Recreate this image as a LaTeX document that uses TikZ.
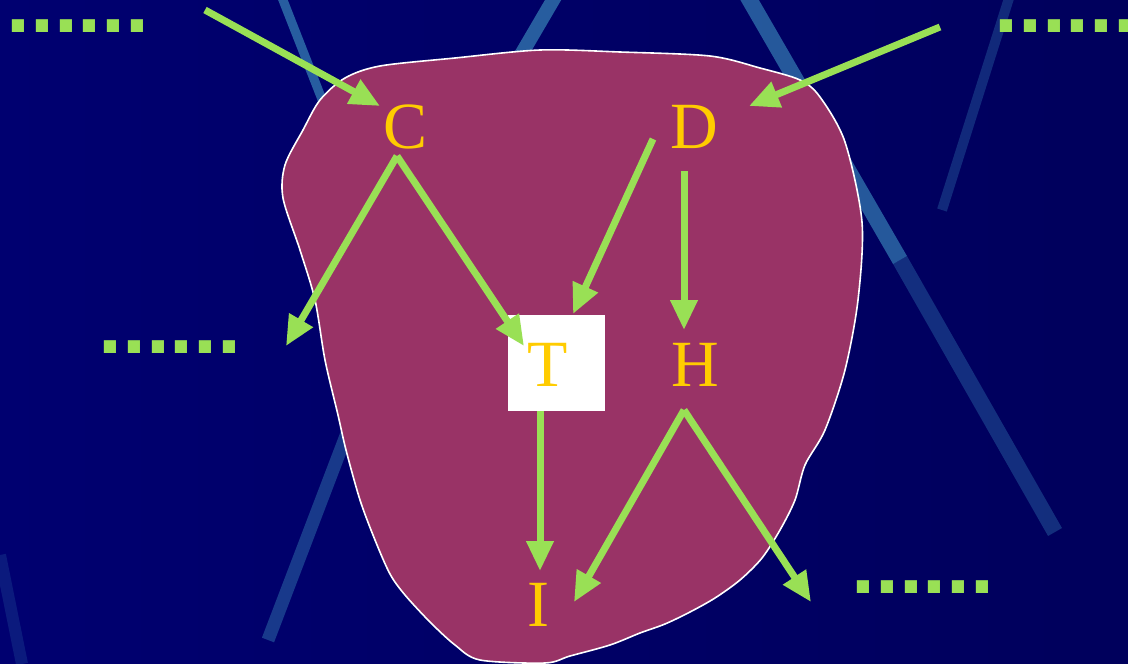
\documentclass[tikz,border=0pt]{standalone}
\usepackage{fontspec}
\setmainfont{Liberation Serif}
\newfontfamily\dotfont{Liberation Sans}
\usetikzlibrary{arrows.meta}
\definecolor{bgl}{HTML}{000070}
\definecolor{bgr}{HTML}{00005C}
\definecolor{blobc}{HTML}{993366}
\definecolor{gold}{HTML}{FFCC00}
\definecolor{lime}{HTML}{99E055}
\definecolor{streak}{HTML}{2C68A6}
\tikzset{
  arr/.style={draw=lime, line width=7pt, -{Triangle[length=30pt,width=26pt]}},
  letter/.style={text=gold, inner sep=0pt, font=\fontsize{66}{66}\selectfont},
  dots/.style={text=lime, inner sep=0pt, anchor=base west, font=\dotfont\bfseries\fontsize{86}{86}\selectfont},
  streakline/.style={draw=streak, line cap=butt},
}
\begin{document}
\begin{tikzpicture}[x=1pt,y=-1pt]
\shade[left color=bgl, right color=bgr] (0,0) rectangle (1128,664);
\useasboundingbox (0,0) rectangle (1128,664);
% streaks
\begin{scope}
\clip (0,0) rectangle (1128,664);
\draw[streakline, line width=9pt, opacity=0.9] (281,-5) -- (440,400);
\draw[streakline, line width=13pt, opacity=0.55] (352,420) -- (268,640);
\draw[streakline, line width=14pt, opacity=0.9] (556,-5) -- (515,65);
\draw[streakline, line width=16pt, opacity=0.85] (745,-8) -- (900,260);
\draw[streakline, line width=16pt, opacity=0.45] (900,260) -- (1055,532);
\draw[streakline, line width=10pt, opacity=0.4] (1010,-5) -- (942,210);
\draw[streakline, line width=12pt, opacity=0.25] (0,555) -- (22,664);
\end{scope}
% blob
\filldraw[fill=blobc, draw=white, line width=1.6pt] plot[smooth cycle, tension=0.5] coordinates {
(455,58) (540,50) (620,52) (710,56) (760,68) (800,80) (820,97) (845,142) (862,222)
(858,300) (845,370) (825,430) (805,465) (795,500) (780,530) (762,558) (740,580)
(715,598) (690,612) (665,624) (640,633) (610,645) (570,656) (545,663) (480,660)
(455,645) (430,622) (405,595) (390,574) (375,540) (360,500) (346,450) (338,415)
(325,360) (315,300) (300,250) (283,198) (285,165) (303,130) (320,100) (345,78) (380,66)};
% white box
\node[fill=white, minimum width=97pt, minimum height=96pt, inner sep=0pt] (Tbox) at (556.5,363) {};
% letters
\node[letter] (C) at (406,127) {C};
\node[letter] (D) at (694,127) {D};
\node[letter] (T) at (547.5,365) {T};
\node[letter] (H) at (695,365) {H};
\node[letter] (I) at (538,605) {I};
% dots
\node[dots] (d1) at (6,32) {......};
\node[dots] (d2) at (994,32) {......};
\node[dots] (d3) at (98,353) {......};
\node[dots] (d4) at (851,593) {......};
% coordinates
\coordinate (a1s) at (205,10);
\coordinate (a1e) at (380,106);
\coordinate (a2s) at (940,27);
\coordinate (a2e) at (749,106);
\coordinate (Cv) at (397,156);
\coordinate (a3e) at (286,346);
\coordinate (a4e) at (524,346);
\coordinate (a5s) at (653,139);
\coordinate (a5e) at (573,314);
\coordinate (a6s) at (684,171);
\coordinate (a6e) at (684,330);
\coordinate (a7s) at (540,411);
\coordinate (a7e) at (540,571);
\coordinate (Hv) at (684,410);
\coordinate (a8e) at (574,602);
\coordinate (a9e) at (811,602);
% arrows
\draw[arr] (a1s) -- (a1e);
\draw[arr] (a2s) -- (a2e);
\draw[arr] (Cv) -- (a3e);
\draw[arr] (Cv) -- (a4e);
\draw[arr] (a5s) -- (a5e);
\draw[arr] (a6s) -- (a6e);
\draw[arr] (a7s) -- (a7e);
\draw[arr] (Hv) -- (a8e);
\draw[arr] (Hv) -- (a9e);
\end{tikzpicture}
\end{document}
